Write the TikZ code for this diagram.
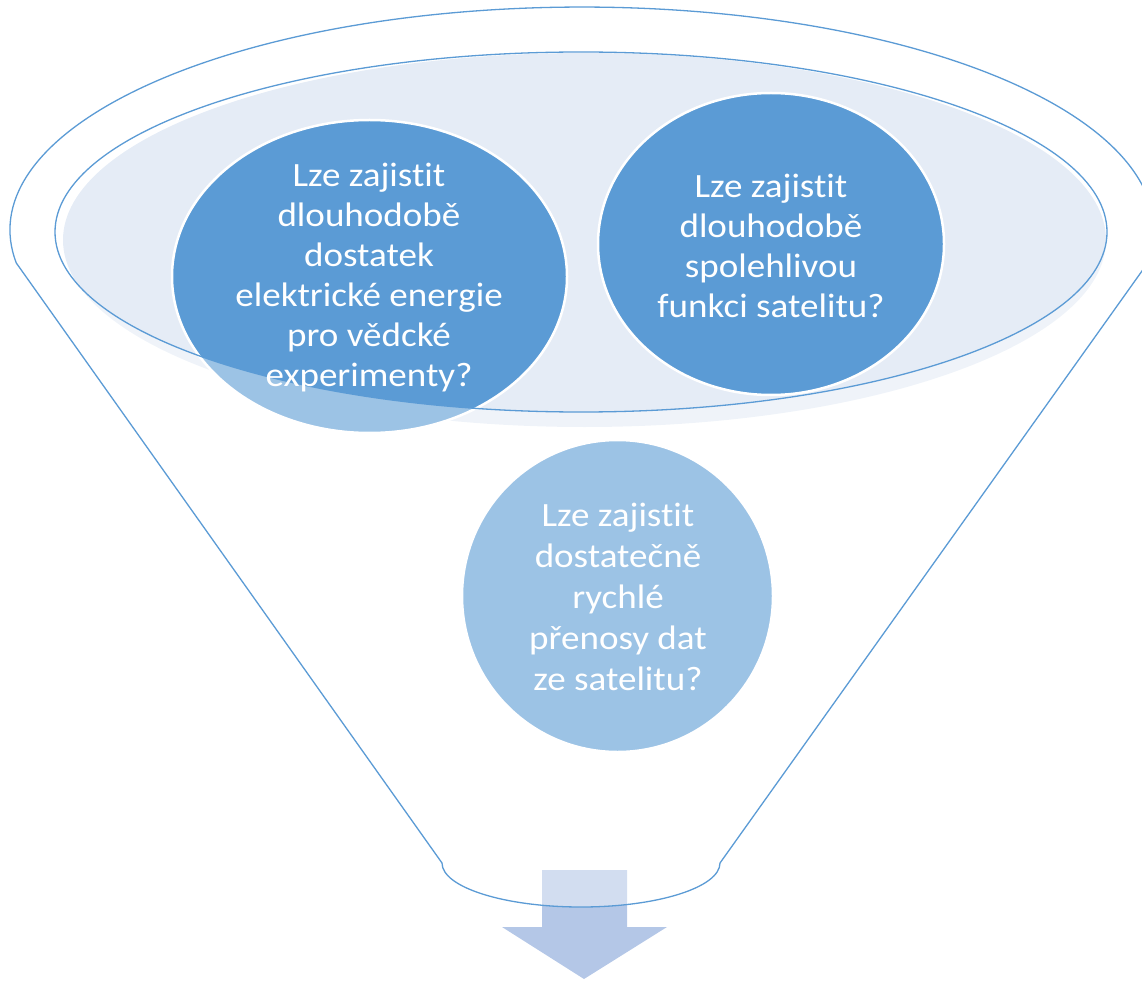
\documentclass[tikz,border=0pt]{standalone}
\usepackage{fontspec}
\setmainfont{Carlito}[Ligatures=NoCommon, FakeStretch=1.09]
\usetikzlibrary{shapes.geometric}
\definecolor{accent}{HTML}{5B9BD5}
\definecolor{mouth}{HTML}{E5ECF6}
\definecolor{arrowblue}{HTML}{B4C7E7}
\begin{document}
\begin{tikzpicture}[x=1pt,y=-1pt,
  bubble/.style={ellipse, fill=accent, draw=white, line width=2.5pt, inner sep=0pt},
  bubbletext/.style={text=white, align=center, inner sep=0pt,
    font=\fontsize{34}{40}\selectfont},
  rim/.style={draw=accent, line width=1.3pt}]
\useasboundingbox (0,0) rectangle (1142,981);
\clip (0,0) rectangle (1142,981);

% light fill of the funnel mouth
\fill[mouth] (584.5,240) ellipse [x radius=521.5, y radius=187];

% the three question bubbles
\node[bubble, minimum width=395pt, minimum height=313pt] (c1) at (369.5,276.5) {};
\node[bubble, minimum width=346pt, minimum height=302pt] (c2) at (771,244) {};
\node[bubble, minimum width=311pt, minimum height=312pt] (c3) at (617.5,596) {};

% output arrow below the funnel
\fill[arrowblue] (542,870) -- (627,870) -- (627,927) -- (667,927) -- (584,979)
  -- (502,927) -- (542,927) -- cycle;

% translucent funnel body (everything outside the mouth is washed out)
\fill[white, fill opacity=0.4, even odd rule]
  (16.3,263) arc[start angle=171.5, end angle=368.5, x radius=572, y radius=223]
  -- (720,863) arc[start angle=0, end angle=180, x radius=139, y radius=44] -- cycle
  (581,232) ellipse [x radius=526, y radius=180];

% funnel outline and mouth rim
\draw[rim]
  (16.3,263) arc[start angle=171.5, end angle=368.5, x radius=572, y radius=223]
  -- (720,863) arc[start angle=0, end angle=180, x radius=139, y radius=44] -- cycle;
\draw[rim] (581,232) ellipse [x radius=526, y radius=180];

% questions
\node[bubbletext] (t1) at (369,277.5) {Lze zajistit\\dlouhodobě\\dostatek\\elektrické energie\\pro vědcké\\experimenty?};
\node[bubbletext] (t2) at (771,246) {Lze zajistit\\dlouhodobě\\spolehlivou\\funkci satelitu?};
\node[bubbletext, font=\fontsize{34}{41}\selectfont] (t3) at (618,596.5) {Lze zajistit\\dostatečně\\rychlé\\přenosy dat\\ze satelitu?};
\end{tikzpicture}
\end{document}
